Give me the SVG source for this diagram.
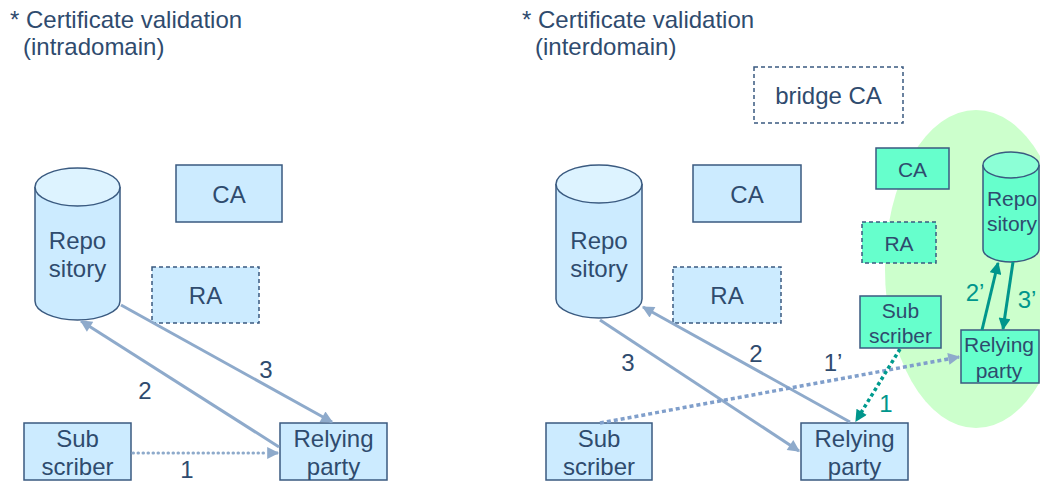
<svg xmlns="http://www.w3.org/2000/svg" width="1040" height="481" viewBox="0 0 1040 481">
  <style>
    text { font-family: "Liberation Sans", Arial, sans-serif; fill: #2F4B6E; }
    .title { font-size: 24px; }
    .lbl { font-size: 24px; text-anchor: middle; }
    .sml { font-size: 21px; text-anchor: middle; }
    .box { fill: #CCEBFF; stroke: #3A5A80; stroke-width: 1.5; }
    .dash { stroke-dasharray: 4 3; }
    .gbox { fill: #66FFCC; stroke: #3A5A80; stroke-width: 1.5; }
    .gtop { fill: #8CFFD6; stroke: #3A5A80; stroke-width: 1.5; }
    .btop { fill: #DDF3FF; stroke: #3A5A80; stroke-width: 1.5; }
    .flow { fill: none; stroke: #8EAACB; stroke-width: 3; }
    .dot { fill: none; stroke: #8EAACB; stroke-width: 3; stroke-dasharray: 0.5 4.5; stroke-linecap: round; }
    .sq { fill: none; stroke: #809FCB; stroke-width: 3.5; stroke-dasharray: 4 3; }
    .tflow { fill: none; stroke: #00968C; stroke-width: 3; }
    .tdot { fill: none; stroke: #009A8E; stroke-width: 3.5; stroke-dasharray: 3.5 3; }
    .num { font-size: 24px; text-anchor: middle; fill: #2F4B6E; }
    .tnum { font-size: 24px; text-anchor: middle; fill: #00968C; }
  </style>
  <defs>
    <marker id="ah" viewBox="0 0 10 10" refX="9" refY="5" markerWidth="14" markerHeight="12" markerUnits="userSpaceOnUse" orient="auto">
      <path d="M0,0 L10,5 L0,10 Z" fill="#8EAACB"/>
    </marker>
    <marker id="ahT" viewBox="0 0 10 10" refX="9" refY="5" markerWidth="14" markerHeight="12" markerUnits="userSpaceOnUse" orient="auto">
      <path d="M0,0 L10,5 L0,10 Z" fill="#00968C"/>
    </marker>
  </defs>

  <!-- headings -->
  <g id="titles">
    <text class="title" x="10" y="28">* Certificate validation</text>
    <text class="title" x="23" y="55">(intradomain)</text>
    <text class="title" x="522" y="28">* Certificate validation</text>
    <text class="title" x="535" y="55">(interdomain)</text>
  </g>

  <!-- remote domain area -->
  <ellipse id="domain" cx="976" cy="269" rx="91" ry="159" fill="#CCFFCC"/>

  <!-- ===== intradomain ===== -->
  <g id="repo-a">
    <path class="box" d="M35,187 L35,301 A42.5,19 0 0 0 120,301 L120,187"/>
    <ellipse class="btop" cx="77.5" cy="187" rx="42.5" ry="19"/>
    <text class="lbl" x="77.5" y="249">Repo</text>
    <text class="lbl" x="77.5" y="277">sitory</text>
  </g>
  <g id="ca-a">
    <rect class="box" x="176" y="165" width="106" height="57"/>
    <text class="lbl" x="229" y="203">CA</text>
  </g>
  <g id="ra-a">
    <rect class="box dash" x="152" y="267" width="107" height="56"/>
    <text class="lbl" x="205.5" y="304">RA</text>
  </g>
  <g id="sub-a">
    <rect class="box" x="24" y="423" width="107" height="57"/>
    <text class="lbl" x="77.5" y="447">Sub</text>
    <text class="lbl" x="77.5" y="475">scriber</text>
  </g>
  <g id="rp-a">
    <rect class="box" x="280" y="423" width="107" height="57"/>
    <text class="lbl" x="333.5" y="447">Relying</text>
    <text class="lbl" x="333.5" y="475">party</text>
  </g>

  <!-- ===== interdomain ===== -->
  <g id="bridge">
    <rect x="754" y="67" width="149" height="56" fill="#FFFFFF" stroke="#3A5A80" stroke-width="1.5" stroke-dasharray="4 3"/>
    <text class="lbl" x="828.5" y="104">bridge CA</text>
  </g>
  <g id="repo-b">
    <path class="box" d="M556,184 L556,299 A43,19 0 0 0 642,299 L642,184"/>
    <ellipse class="btop" cx="599" cy="184" rx="43" ry="19"/>
    <text class="lbl" x="599" y="249">Repo</text>
    <text class="lbl" x="599" y="277">sitory</text>
  </g>
  <g id="ca-b">
    <rect class="box" x="693" y="165" width="108" height="57"/>
    <text class="lbl" x="747" y="203">CA</text>
  </g>
  <g id="ra-b">
    <rect class="box dash" x="673" y="267" width="108" height="56"/>
    <text class="lbl" x="727" y="304">RA</text>
  </g>
  <g id="sub-b">
    <rect class="box" x="546" y="423" width="106" height="57"/>
    <text class="lbl" x="599" y="447">Sub</text>
    <text class="lbl" x="599" y="475">scriber</text>
  </g>
  <g id="rp-b">
    <rect class="box" x="801" y="423" width="107" height="57"/>
    <text class="lbl" x="854.5" y="447">Relying</text>
    <text class="lbl" x="854.5" y="475">party</text>
  </g>

  <!-- remote domain nodes -->
  <g id="ca-r">
    <rect class="gbox" x="876" y="148" width="73" height="41"/>
    <text class="sml" x="912.5" y="177">CA</text>
  </g>
  <g id="ra-r">
    <rect class="gbox dash" x="862" y="222" width="74" height="41"/>
    <text class="sml" x="899" y="251">RA</text>
  </g>
  <g id="sub-r">
    <rect class="gbox" x="860" y="296" width="81" height="52"/>
    <text class="sml" x="900.5" y="318">Sub</text>
    <text class="sml" x="900.5" y="343">scriber</text>
  </g>
  <g id="repo-r">
    <path class="gbox" d="M983,165 L983,249 A28,13 0 0 0 1039,249 L1039,165"/>
    <ellipse class="gtop" cx="1011" cy="165" rx="28" ry="13"/>
    <text class="sml" x="1012" y="206">Repo</text>
    <text class="sml" x="1012" y="231">sitory</text>
  </g>
  <g id="rp-r">
    <rect class="gbox" x="961" y="330" width="78" height="53"/>
    <text class="sml" x="999" y="352">Relying</text>
    <text class="sml" x="999" y="378">party</text>
  </g>

  <!-- connectors -->
  <g id="connectors">
    <!-- intradomain -->
    <path class="dot" d="M133,453 L268,453"/>
    <path class="flow" d="M268,453 L278,453" marker-end="url(#ah)"/>
    <path class="flow" d="M279,447 L81,321" marker-end="url(#ah)"/>
    <path class="flow" d="M121,305 L332,422" marker-end="url(#ah)"/>
    <!-- interdomain -->
    <path class="flow" d="M600,320 L799,451" marker-end="url(#ah)"/>
    <path class="flow" d="M850,422 L643,307" marker-end="url(#ah)"/>
    <path class="sq" d="M600,423 L959,357" marker-end="url(#ah)"/>
    <path class="tdot" d="M900,349 L856,421" marker-end="url(#ahT)"/>
    <path class="tflow" d="M982,330 L998,263" marker-end="url(#ahT)"/>
    <path class="tflow" d="M1013,262 L1003,329" marker-end="url(#ahT)"/>
  </g>

  <!-- connector labels -->
  <g id="labels">
    <text class="num" x="187" y="478">1</text>
    <text class="num" x="145" y="399">2</text>
    <text class="num" x="266" y="378">3</text>
    <text class="num" x="628" y="371">3</text>
    <text class="num" x="756" y="362">2</text>
    <text class="num" x="833" y="371">1’</text>
    <text class="tnum" x="886" y="412">1</text>
    <text class="tnum" x="975" y="301">2’</text>
    <text class="tnum" x="1027" y="308">3’</text>
  </g>
</svg>
